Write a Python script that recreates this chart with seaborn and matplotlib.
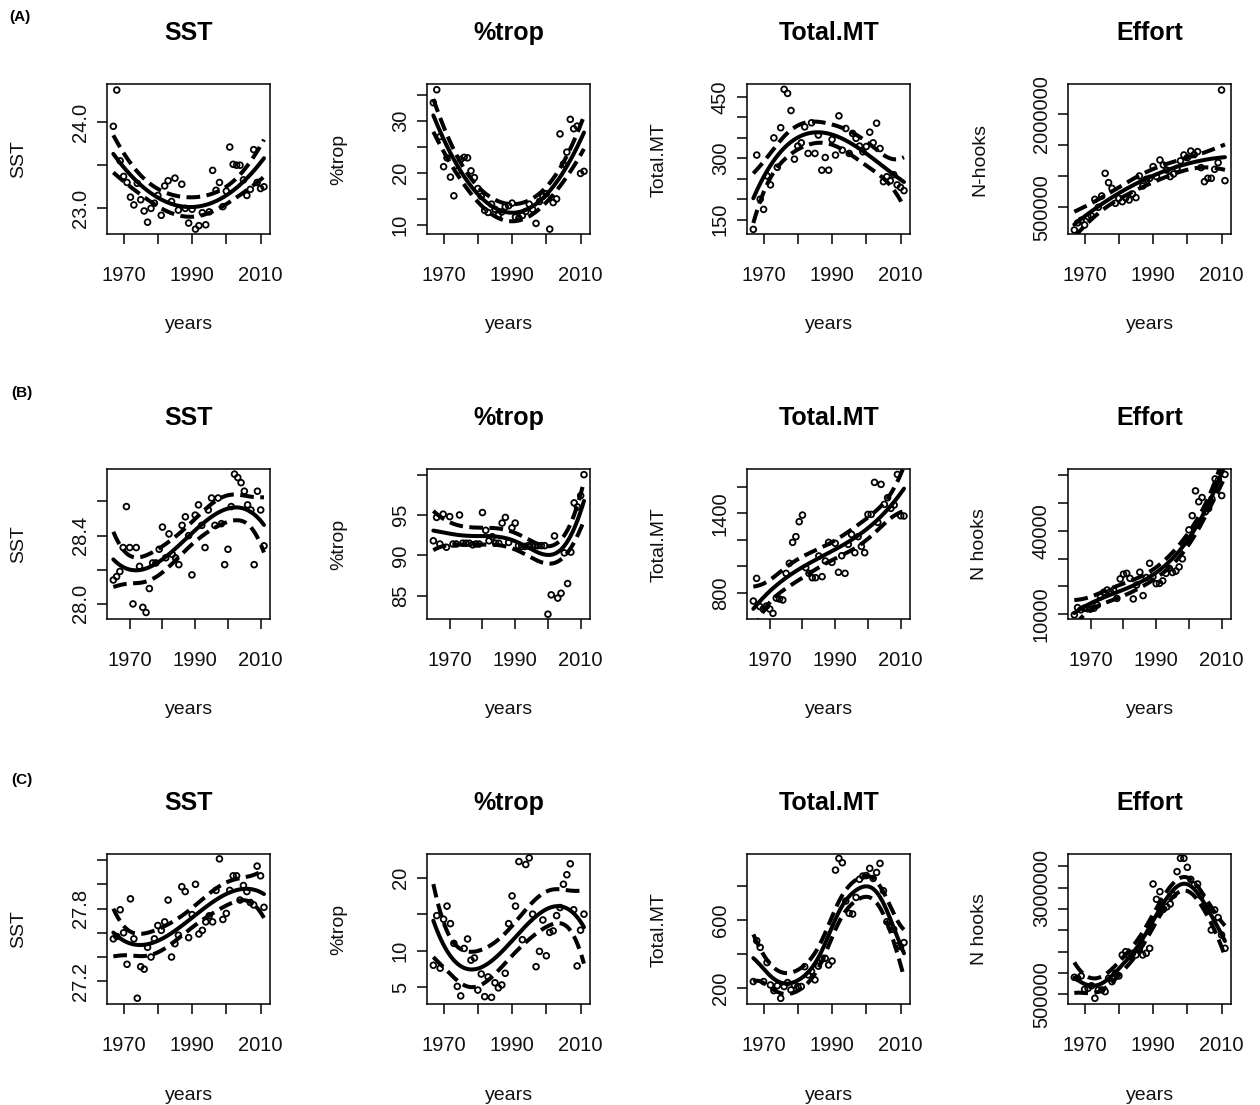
import numpy as np
import pandas as pd
import matplotlib
matplotlib.use("Agg")
import matplotlib.pyplot as plt
import seaborn as sns

# ---------------- data ----------------
years_ac = list(range(1967, 2012))   # rows A and C
years_b = list(range(1965, 2012))    # row B

titles = ["SST", "%trop", "Total.MT", "Effort"]
ylabels_a = ["SST", "%trop", "Total.MT", "N-hooks"]
ylabels_bc = ["SST", "%trop", "Total.MT", "N hooks"]
row_tags = ["(A)", "(B)", "(C)"]

x_ticks = [1970, 1980, 1990, 2000, 2010]
x_ticklabels = ["1970", "", "1990", "", "2010"]

# Row A
A_sst = [23.95, 24.37, 23.55, 23.37, 23.30, 23.13, 23.04, 23.29, 23.10, 22.97,
         22.84, 23.00, 23.06, 23.15, 22.92, 23.26, 23.32, 23.08, 23.35, 22.98,
         23.28, 23.00, 22.83, 22.99, 22.76, 22.80, 22.95, 22.81, 22.96, 23.44,
         23.21, 23.30, 23.02, 23.20, 23.71, 23.51, 23.50, 23.50, 23.33, 23.15,
         23.22, 23.68, 23.30, 23.23, 23.25]
A_trop = [33.5, 36.0, 27.0, 21.2, 22.9, 19.2, 15.6, 20.4, 22.6, 23.0,
          22.9, 20.4, 19.1, 17.0, 15.5, 12.8, 12.4, 14.0, 13.0, 11.9,
          12.5, 13.5, 13.7, 14.2, 11.5, 11.3, 11.8, 12.6, 14.0, 13.0,
          10.3, 14.5, 15.5, 16.0, 9.2, 14.3, 15.0, 27.5, 21.7, 24.0,
          30.3, 28.5, 29.0, 19.9, 20.3]
A_total = [126, 308, 200, 175, 257, 235, 350, 278, 375, 469,
           459, 417, 298, 330, 338, 377, 312, 387, 312, 357,
           271, 302, 271, 346, 308, 404, 320, 373, 312, 361,
           349, 330, 316, 329, 364, 338, 386, 324, 243, 255,
           245, 260, 235, 229, 221]
A_effort = [134e3, 250e3, 290e3, 215e3, 350e3, 360e3, 629e3, 500e3, 683e3, 1048e3,
            898e3, 806e3, 565e3, 645e3, 591e3, 650e3, 618e3, 715e3, 656e3, 1005e3,
            844e3, 952e3, 968e3, 1156e3, 995e3, 1263e3, 1183e3, 1100e3, 995e3, 1038e3,
            1129e3, 1250e3, 1344e3, 1300e3, 1408e3, 1350e3, 1398e3, 1140e3, 914e3, 968e3,
            968e3, 1113e3, 1220e3, 2392e3, 930e3]

# Row B
B_sst = [28.14, 28.16, 28.19, 28.33, 28.57, 28.33, 28.00, 28.33, 28.22, 27.98,
         27.95, 28.09, 28.24, 28.24, 28.32, 28.45, 28.27, 28.41, 28.29, 28.27,
         28.23, 28.46, 28.51, 28.40, 28.17, 28.52, 28.58, 28.46, 28.33, 28.55,
         28.62, 28.46, 28.62, 28.47, 28.23, 28.32, 28.57, 28.76, 28.74, 28.71,
         28.66, 28.58, 28.55, 28.23, 28.66, 28.55, 28.34]
B_trop = [91.8, 94.7, 91.4, 95.1, 91.0, 94.8, 91.4, 91.4, 95.0, 91.5,
          91.5, 91.5, 91.3, 91.4, 91.4, 95.3, 93.1, 91.8, 92.3, 91.5,
          91.5, 94.0, 94.7, 91.6, 93.4, 94.0, 91.2, 91.1, 91.1, 91.2,
          91.2, 91.2, 91.2, 91.2, 91.2, 82.7, 85.1, 92.4, 84.7, 85.3,
          90.3, 86.5, 90.4, 96.5, 96.0, 97.4, 100.0]
B_total = [738, 909, 696, 678, 700, 678, 645, 760, 753, 746,
           947, 1023, 1181, 1224, 1337, 1387, 990, 947, 914, 914,
           1078, 922, 1040, 1181, 1030, 1174, 955, 1080, 947, 1166,
           1241, 1103, 1224, 1150, 1103, 1392, 1392, 1634, 1332, 1619,
           1468, 1518, 1438, 1463, 1694, 1382, 1380]
B_effort = [9.8e3, 12.4e3, 11.6e3, 12.2e3, 12.0e3, 11.9e3, 12.2e3, 13.3e3, 16.3e3, 17.9e3,
            18.7e3, 18.1e3, 18.7e3, 15.7e3, 22.7e3, 24.4e3, 24.7e3, 22.9e3, 15.5e3, 20.5e3,
            25.1e3, 16.7e3, 23.2e3, 28.3e3, 23.5e3, 21.0e3, 21.1e3, 22.0e3, 24.7e3, 26.5e3,
            25.0e3, 25.5e3, 27.0e3, 29.9e3, 36.1e3, 40.3e3, 45.4e3, 54.3e3, 50.4e3, 51.9e3,
            46.8e3, 48.0e3, 51.4e3, 58.6e3, 58.2e3, 52.6e3, 60.2e3]

# Row C
C_sst = [27.55, 27.57, 27.79, 27.60, 27.34, 27.88, 27.55, 27.06, 27.32, 27.30,
         27.48, 27.40, 27.55, 27.66, 27.62, 27.69, 27.87, 27.40, 27.51, 27.58,
         27.98, 27.94, 27.56, 27.75, 28.00, 27.59, 27.62, 27.69, 27.74, 27.69,
         27.95, 28.21, 27.71, 27.76, 27.95, 28.07, 28.07, 27.87, 27.99, 27.94,
         27.85, 27.83, 28.15, 28.07, 27.81]
C_trop = [8.0, 14.8, 7.6, 14.3, 16.1, 13.7, 11.0, 5.1, 3.8, 10.3,
          11.6, 8.7, 9.0, 4.6, 6.8, 3.7, 6.4, 3.6, 5.6, 4.9,
          5.3, 6.9, 13.7, 17.5, 16.1, 22.2, 11.5, 21.8, 22.7, 15.0,
          7.8, 9.9, 14.2, 9.3, 12.5, 12.7, 14.8, 15.9, 19.1, 20.4,
          21.9, 15.6, 7.9, 12.8, 15.0]
C_total = [240, 479, 440, 240, 351, 220, 187, 216, 142, 211,
           234, 191, 220, 211, 211, 327, 279, 300, 250, 330,
           370, 376, 337, 360, 892, 960, 935, 711, 639, 635,
           732, 838, 857, 860, 902, 843, 878, 931, 771, 590,
           557, 545, 448, 444, 468]
C_effort = [898e3, 875e3, 930e3, 617e3, 640e3, 700e3, 406e3, 602e3, 602e3, 562e3,
            875e3, 797e3, 992e3, 930e3, 1422e3, 1500e3, 1383e3, 1461e3, 1422e3, 1539e3,
            1422e3, 1461e3, 1578e3, 3086e3, 2727e3, 2906e3, 2492e3, 2550e3, 2617e3, 2828e3,
            3375e3, 3688e3, 3688e3, 3477e3, 3195e3, 3062e3, 3086e3, 2805e3, 2555e3, 2492e3,
            2008e3, 2477e3, 2300e3, 1891e3, 1578e3]

# y tick values and labels per panel
A_sst_ticks, A_sst_labels = [23.0, 23.5, 24.0], ["23.0", "", "24.0"]
A_trop_ticks, A_trop_labels = [10, 15, 20, 25, 30, 35], ["10", "", "20", "", "30", ""]
A_total_ticks, A_total_labels = [150, 200, 250, 300, 350, 400, 450], ["150", "", "", "300", "", "", "450"]
A_eff_ticks, A_eff_labels = [500000, 1000000, 1500000, 2000000], ["500000", "", "", "2000000"]
B_sst_ticks, B_sst_labels = [28.0, 28.2, 28.4, 28.6], ["28.0", "", "28.4", ""]
B_trop_ticks, B_trop_labels = [85, 90, 95, 100], ["85", "90", "95", ""]
B_total_ticks, B_total_labels = [800, 1000, 1200, 1400, 1600], ["800", "", "", "1400", ""]
B_eff_ticks, B_eff_labels = [10000, 20000, 30000, 40000, 50000, 60000], ["10000", "", "", "40000", "", ""]
C_sst_ticks, C_sst_labels = [27.2, 27.4, 27.6, 27.8, 28.0, 28.2], ["27.2", "", "", "27.8", "", ""]
C_trop_ticks, C_trop_labels = [5, 10, 15, 20], ["5", "10", "", "20"]
C_total_ticks, C_total_labels = [200, 400, 600, 800], ["200", "", "600", ""]
C_eff_ticks, C_eff_labels = [500000, 1000000, 1500000, 2000000, 2500000, 3000000, 3500000], \
    ["500000", "", "", "", "", "3000000", ""]

# ---------------- styling / layout ----------------
sns.set_theme(style="ticks")
plt.rcParams["font.family"] = ["Liberation Sans", "DejaVu Sans"]

W, H = 1260, 1105
fig = plt.figure(figsize=(W / 100, H / 100), dpi=100)
col_left = [107.3, 427.3, 747.3, 1068.3]
row_top = [84, 469, 854]
box_w, box_h = 162.7, 150.3


def smooth_band(x, y, deg, bw, z=1.96, n_grid=200):
    """Gaussian-weighted local polynomial smoother with pointwise band
    (a very large bandwidth gives an ordinary polynomial regression)."""
    x = np.asarray(x, float)
    y = np.asarray(y, float)
    mu, sd = x.mean(), x.std()
    xs = (x - mu) / sd

    def rows(x0s):
        L = np.zeros((len(x0s), len(x)))
        for j, x0 in enumerate(x0s):
            w = np.exp(-0.5 * ((x - x0) / bw) ** 2)
            X = np.vander(xs - (x0 - mu) / sd, deg + 1, increasing=True)
            XtW = X.T * w
            L[j] = np.linalg.solve(XtW @ X, XtW)[0]
        return L

    Ld = rows(x)
    res = y - Ld @ y
    sigma = np.sqrt(np.sum(res ** 2) / (len(x) - np.trace(Ld)))
    xg = np.linspace(x.min(), x.max(), n_grid)
    Lg = rows(xg)
    fit = Lg @ y
    se = sigma * np.sqrt((Lg ** 2).sum(1))
    return xg, fit, fit - z * se, fit + z * se


G = 1e4  # effectively global fit
panels = [
    [(years_ac, A_sst, (22.70, 24.44), A_sst_ticks, A_sst_labels, 2, G),
     (years_ac, A_trop, (8.2, 37.1), A_trop_ticks, A_trop_labels, 2, G),
     (years_ac, A_total, (114, 482), A_total_ticks, A_total_labels, 3, G),
     (years_ac, A_effort, (64500, 2489000), A_eff_ticks, A_eff_labels, 2, G)],
    [(years_b, B_sst, (27.91, 28.79), B_sst_ticks, B_sst_labels, 3, G),
     (years_b, B_trop, (82.07, 100.7), B_trop_ticks, B_trop_labels, 1, 6.5),
     (years_b, B_total, (600, 1735), B_total_ticks, B_total_labels, 3, G),
     (years_b, B_effort, (8200, 62150), B_eff_ticks, B_eff_labels, 3, G)],
    [(years_ac, C_sst, (27.01, 28.25), C_sst_ticks, C_sst_labels, 3, G),
     (years_ac, C_trop, (2.65, 23.24), C_trop_ticks, C_trop_labels, 3, G),
     (years_ac, C_total, (107, 986), C_total_ticks, C_total_labels, 1, 4.0),
     (years_ac, C_effort, (265600, 3789000), C_eff_ticks, C_eff_labels, 1, 4.0)],
]
ylabel_rows = [ylabels_a, ylabels_bc, ylabels_bc]
tag_pos = [(20, 17), (22, 393), (22, 780)]
dash = (0, (3.4, 1.6))

for r in range(3):
    fig.text(tag_pos[r][0] / W, 1 - tag_pos[r][1] / H, row_tags[r], ha="center",
             va="center", fontsize=11, fontweight="bold", color="black")
    for c in range(4):
        yrs, vals, ylim, yt, ytl, deg, bw = panels[r][c]
        left = col_left[c] / W
        bottom = 1 - (row_top[r] + box_h) / H
        ax = fig.add_axes([left, bottom, box_w / W, box_h / H])
        df = pd.DataFrame({"year": yrs, "value": vals})
        xg, fit, lo, hi = smooth_band(df["year"], df["value"], deg, bw)

        sns.scatterplot(data=df, x="year", y="value", ax=ax, s=17,
                        facecolor="none", edgecolor="black", linewidth=1.3,
                        zorder=3)
        sns.lineplot(x=xg, y=fit, ax=ax, color="black", linewidth=2.9,
                     estimator=None, sort=False, zorder=4)
        for band in (lo, hi):
            sns.lineplot(x=xg, y=band, ax=ax, color="black", linewidth=2.9,
                         linestyle=dash, estimator=None, sort=False, zorder=4)

        span_x = max(yrs) - min(yrs)
        ax.set_xlim(min(yrs) - 0.04 * span_x, max(yrs) + 0.04 * span_x)
        ax.set_ylim(*ylim)
        ax.set_xticks(x_ticks, x_ticklabels)
        ax.set_yticks(yt, ytl)
        ax.tick_params(axis="both", direction="out", length=7.5, width=1.1,
                       color="black", labelsize=14.5, labelcolor="#111111")
        ax.tick_params(axis="x", pad=15)
        ax.tick_params(axis="y", pad=5, labelrotation=90)
        for lab in ax.get_yticklabels():
            lab.set_va("center")
        for sp in ax.spines.values():
            sp.set_linewidth(1.1)
            sp.set_color("black")
            sp.set_visible(True)

        ax.set_xlabel("years", fontsize=14, color="#111111")
        ax.xaxis.label.set_va("center")
        ax.xaxis.set_label_coords(0.5, -90.7 / box_h)
        ax.set_ylabel(ylabel_rows[r][c], fontsize=14, color="#111111")
        ax.yaxis.label.set_va("center")
        ax.yaxis.set_label_coords(-88.5 / box_w, 0.5)
        ax.text(0.5, 1 + 51 / box_h, titles[c], transform=ax.transAxes,
                ha="center", va="center", fontsize=18, fontweight="bold",
                color="black")

fig.savefig("out.png", dpi=100, facecolor="white")
